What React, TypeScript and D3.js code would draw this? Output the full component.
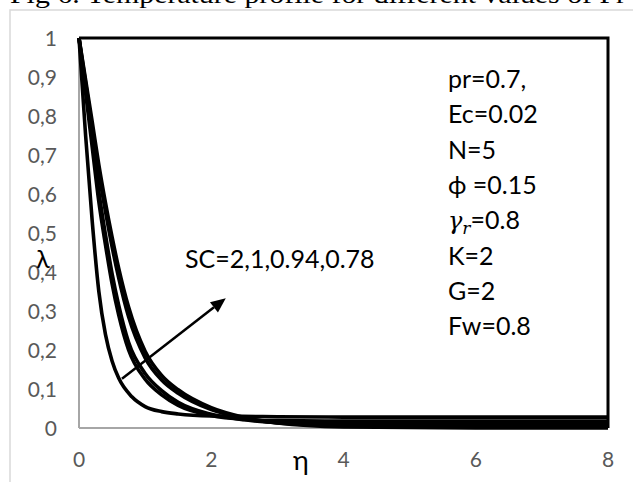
import React from 'react'
import * as d3 from 'd3'

// eta grid used by the curves
const etaFine = [0, 0.1, 0.2, 0.3, 0.4, 0.5, 0.6, 0.8, 1.0, 1.25, 1.5, 2, 3, 4, 6, 8]
const etaGrid = [0, 0.1, 0.2, 0.3, 0.4, 0.5, 0.6, 0.75, 1, 1.25, 1.5, 2, 2.5, 3, 4, 6, 8]

// steep curve on the left
const curveA = [1, 0.75, 0.53, 0.35, 0.24, 0.172, 0.128, 0.08, 0.055, 0.042, 0.036, 0.031, 0.029, 0.028, 0.028, 0.028]
// the bundle
const curveB = [1, 0.86, 0.72, 0.58, 0.47, 0.37, 0.29, 0.2, 0.125, 0.085, 0.058, 0.032, 0.022, 0.019, 0.018, 0.018, 0.018]
const curveC = [1, 0.872, 0.74, 0.606, 0.496, 0.396, 0.315, 0.22, 0.14, 0.096, 0.066, 0.035, 0.021, 0.014, 0.012, 0.012, 0.012]
const curveD = [1, 0.885, 0.77, 0.655, 0.555, 0.465, 0.385, 0.285, 0.18, 0.123, 0.089, 0.047, 0.025, 0.013, 0.006, 0.006, 0.006]
const curveE = [1, 0.893, 0.785, 0.675, 0.578, 0.49, 0.41, 0.31, 0.197, 0.135, 0.098, 0.052, 0.027, 0.013, 0.003, 0, 0]

// the series also run along the top and the right edge
const frameEta = [0, 8, 8]
const frameLam = [1, 1, 0]

const xTicks = [0, 2, 4, 6, 8]
const yTicks = [0, 0.1, 0.2, 0.3, 0.4, 0.5, 0.6, 0.7, 0.8, 0.9, 1]

const params = ['pr=0.7,', 'Ec=0.02', 'N=5', 'ϕ =0.15', 'GAMMA', 'K=2', 'G=2', 'Fw=0.8']

const W = 633
const H = 482
const margin = { top: 38, right: 25, bottom: 54, left: 79 }

const App = () => {
  const x = d3.scaleLinear().domain([0, 8]).range([margin.left, W - margin.right])
  const y = d3.scaleLinear().domain([0, 1]).range([H - margin.bottom, margin.top])

  const line = d3
    .line<[number, number]>()
    .x((d) => x(d[0]))
    .y((d) => y(d[1]))
    .curve(d3.curveMonotoneX)

  const series = [
    etaFine.map((e, i) => [e, curveA[i]] as [number, number]),
    etaGrid.map((e, i) => [e, curveB[i]] as [number, number]),
    etaGrid.map((e, i) => [e, curveC[i]] as [number, number]),
    etaGrid.map((e, i) => [e, curveD[i]] as [number, number]),
    etaGrid.map((e, i) => [e, curveE[i]] as [number, number]),
  ]
  const frame = frameEta.map((e, i) => [x(e), y(frameLam[i])])

  const font = 'Lato, "Noto Sans", sans-serif'

  // arrow in data space
  const a0 = [x(0.65), y(0.126)]
  const a1 = [x(2.22), y(0.333)]
  const ang = Math.atan2(a1[1] - a0[1], a1[0] - a0[0])
  const hl = 15
  const hw = 6.5
  const base = [a1[0] - hl * Math.cos(ang), a1[1] - hl * Math.sin(ang)]
  const head = [
    a1,
    [base[0] + hw * Math.sin(ang), base[1] - hw * Math.cos(ang)],
    [base[0] - hw * Math.sin(ang), base[1] + hw * Math.cos(ang)],
  ]

  return (
    <svg
      width={W}
      height={H}
      style={{ position: 'absolute', left: 0, top: 0, background: '#fff' }}
    >
      <text
        x={10}
        y={3}
        fontFamily='"Liberation Serif", serif'
        fontSize={25}
        textLength={616}
        lengthAdjust="spacingAndGlyphs"
      >
        Fig 6. Temperature profile for different values of Pr
      </text>
      <rect x={10} y={10} width={700} height={600} fill="none" stroke="#d9d9d9" strokeWidth={1.5} />

      {/* axes */}
      <line x1={x(0)} x2={x(0)} y1={y(1)} y2={y(0)} stroke="#a6a6a6" strokeWidth={2} />
      <line x1={x(0)} x2={x(8)} y1={y(0)} y2={y(0)} stroke="#a6a6a6" strokeWidth={2} />

      {yTicks.map((t) => (
        <text
          key={t}
          x={57}
          y={y(t)}
          dy="0.36em"
          textAnchor="end"
          fontFamily={font}
          fontSize={21}
          fill="#595959"
        >
          {String(+t.toFixed(1)).replace('.', ',')}
        </text>
      ))}
      {xTicks.map((t) => (
        <text
          key={t}
          x={x(t)}
          y={467}
          textAnchor="middle"
          fontFamily={font}
          fontSize={21}
          fill="#595959"
        >
          {t}
        </text>
      ))}
      <text x={301} y={470} textAnchor="middle" fontFamily={font} fontSize={27} fill="#000">
        η
      </text>
      <text x={43} y={268} textAnchor="middle" fontFamily={font} fontSize={25} fill="#000">
        λ
      </text>

      {/* curves */}
      <polyline
        points={frame.map((p) => p.join(',')).join(' ')}
        fill="none"
        stroke="#000"
        strokeWidth={3}
      />
      {series.map((s, i) => (
        <path key={i} d={line(s) || ''} fill="none" stroke="#000" strokeWidth={3.6} />
      ))}

      {/* annotation */}
      <line x1={a0[0]} y1={a0[1]} x2={base[0]} y2={base[1]} stroke="#000" strokeWidth={2.5} />
      <polygon points={head.map((p) => p.join(',')).join(' ')} fill="#000" />
      <text x={185} y={268} fontFamily={font} fontSize={25} fill="#000">
        SC=2,1,0.94,0.78
      </text>

      {params.map((p, i) => (
        <text key={i} x={448} y={88 + i * 35.3} fontFamily={font} fontSize={25} fill="#000">
          {p === 'GAMMA' ? (
            <>
              <tspan fontFamily='"DejaVu Serif", serif' fontStyle="italic" fontSize={24}>
                γ
              </tspan>
              <tspan fontFamily='"DejaVu Serif", serif' fontStyle="italic" fontSize={17} dy={5}>
                r
              </tspan>
              <tspan dy={-5}>=0.8</tspan>
            </>
          ) : (
            p
          )}
        </text>
      ))}
    </svg>
  )
}

export default App
